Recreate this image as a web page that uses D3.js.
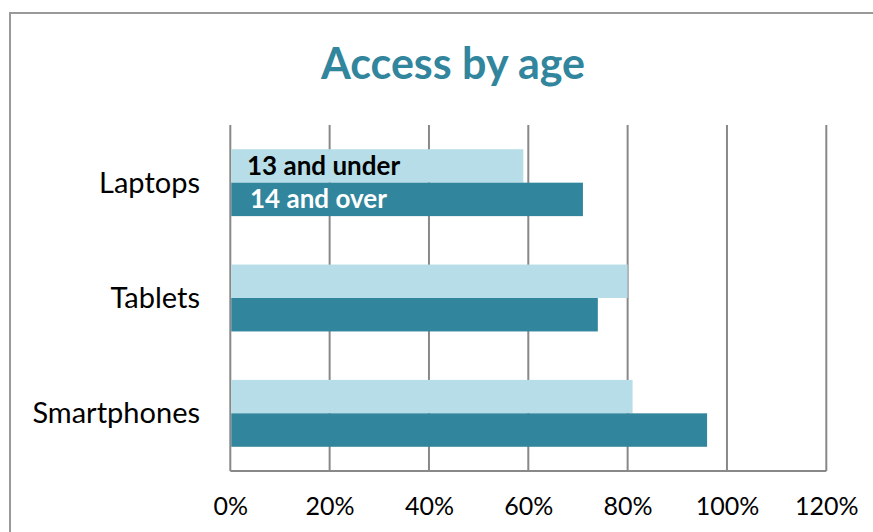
<!DOCTYPE html>
<html>
<head>
<meta charset="utf-8">
<script src="https://cdn.jsdelivr.net/npm/d3@7"></script>
<style>
  html, body { margin: 0; padding: 0; background: #fff; }
  svg { display: block; }
</style>
</head>
<body>
<svg id="chart" width="873" height="532"></svg>
<script>
// Device categories, top to bottom
const categories = ["Laptops", "Tablets", "Smartphones"];
// Series names
const seriesNames = ["13 and under", "14 and over"];
// Share with access (%), per category
const under13 = [59, 80, 81];
const over14 = [71, 74, 96];
// Axis ticks (%)
const tickValues = [0, 20, 40, 60, 80, 100, 120];

const colors = ["#B7DEE8", "#31859C"];
const font = "Lato, 'Open Sans', sans-serif";

const svg = d3.select("#chart");
const W = 873, H = 532;

// outer frame (top and left edges visible)
svg.append("path")
  .attr("d", `M10,${H} L10,13 L${W},13`)
  .attr("fill", "none")
  .attr("stroke", "#999")
  .attr("stroke-width", 2);

// title
svg.append("text")
  .attr("x", 453).attr("y", 79)
  .attr("text-anchor", "middle")
  .attr("font-family", font)
  .attr("font-weight", "bold")
  .attr("font-size", 43)
  .attr("fill", "#31859C")
  .text("Access by age");

const plot = { left: 230.3, right: 826.3, top: 125, bottom: 471 };

const x = d3.scaleLinear().domain([0, 120]).range([plot.left, plot.right]);
const y = d3.scaleBand().domain(categories).range([plot.top, plot.bottom])
  .paddingInner(0.42).paddingOuter(0.21);
const sub = d3.scaleBand().domain(seriesNames).range([0, y.bandwidth()]);

// vertical gridlines
svg.append("g").selectAll("line").data(tickValues).join("line")
  .attr("x1", d => x(d)).attr("x2", d => x(d))
  .attr("y1", plot.top).attr("y2", plot.bottom)
  .attr("stroke", "#888").attr("stroke-width", 2);

// bottom axis line
svg.append("line")
  .attr("x1", plot.left).attr("x2", x(120))
  .attr("y1", plot.bottom).attr("y2", plot.bottom)
  .attr("stroke", "#888").attr("stroke-width", 2);

// bars
const series = [under13, over14];
series.forEach((vals, si) => {
  svg.append("g").selectAll("rect").data(categories).join("rect")
    .attr("x", x(0) + 1)
    .attr("y", d => y(d) + sub(seriesNames[si]))
    .attr("width", (d, i) => x(vals[i]) - x(0) - 1)
    .attr("height", sub.bandwidth())
    .attr("fill", colors[si]);
});

// category labels
svg.append("g").selectAll("text").data(categories).join("text")
  .attr("x", 200)
  .attr("y", d => y(d) + y.bandwidth() / 2)
  .attr("dy", "0.35em")
  .attr("text-anchor", "end")
  .attr("font-family", font)
  .attr("font-size", 29)
  .attr("fill", "#000")
  .text(d => d);

// tick labels
const xAxis = d3.axisBottom(x).tickValues(tickValues).tickFormat(d => d + "%").tickSize(0).tickPadding(0);
const gx = svg.append("g").attr("transform", `translate(0,${plot.bottom + 35})`).call(xAxis);
gx.select(".domain").remove();
gx.selectAll("text")
  .attr("font-family", font)
  .attr("font-size", 25)
  .attr("fill", "#000")
  .attr("dy", "0.35em");

// legend drawn over the first pair of bars
const legendColors = ["#000", "#fff"];
svg.append("g").selectAll("text").data(seriesNames).join("text")
  .attr("x", (d, i) => 247 + i * 3)
  .attr("y", (d, i) => y(categories[0]) + sub(d) + sub.bandwidth() / 2)
  .attr("dy", "0.35em")
  .attr("font-family", font)
  .attr("font-weight", "bold")
  .attr("font-size", 26)
  .attr("fill", (d, i) => legendColors[i])
  .text(d => d);
</script>
</body>
</html>
